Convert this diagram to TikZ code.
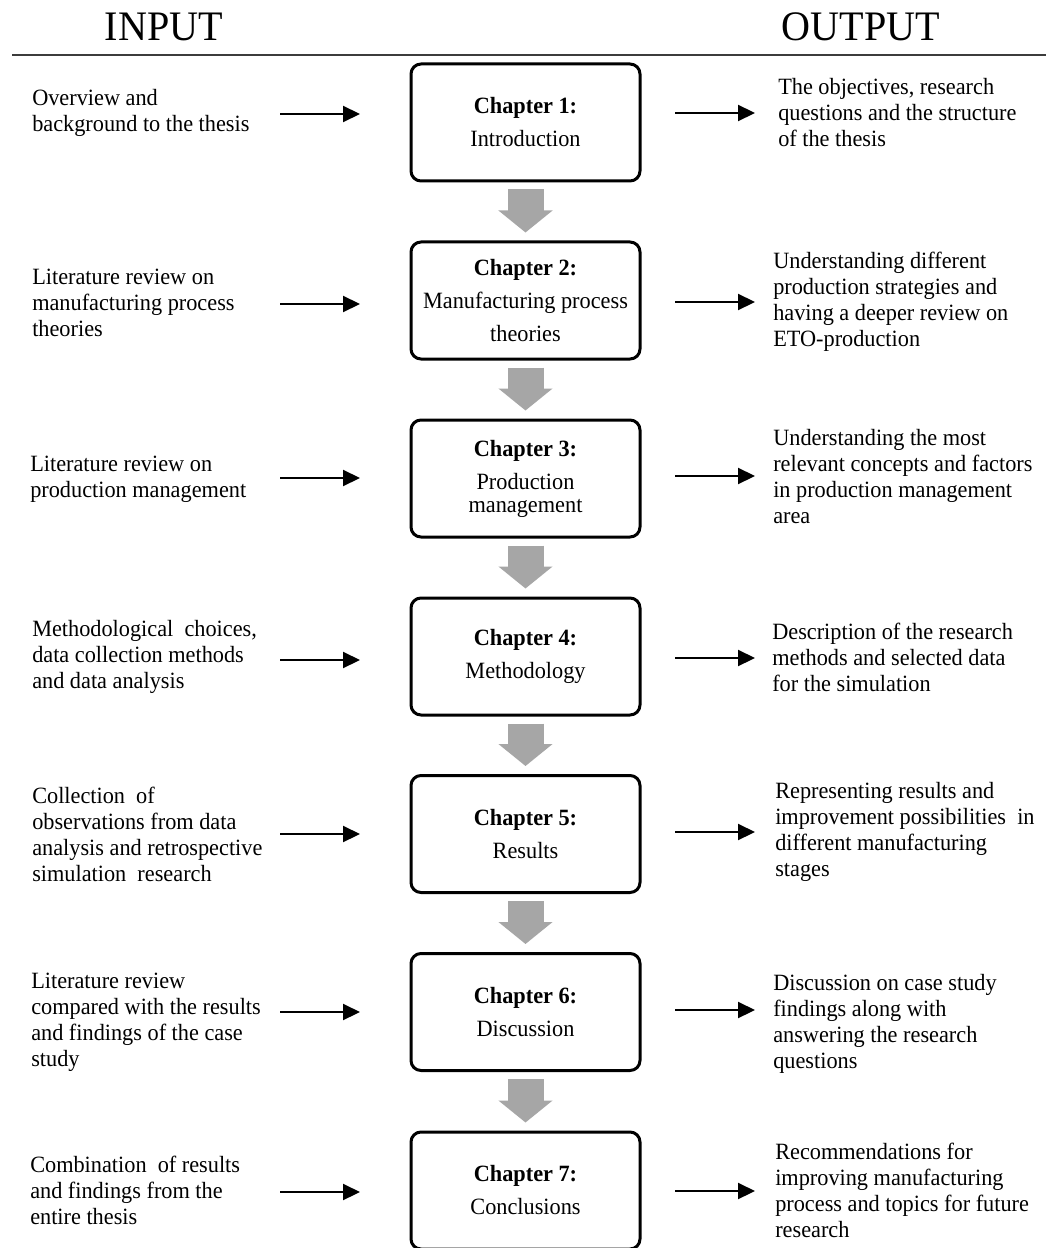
\documentclass[tikz,border=0pt]{standalone}
\usepackage{fontspec}
\setmainfont[FakeStretch=0.955]{Liberation Serif}
\usetikzlibrary{arrows.meta}
\definecolor{flowgray}{RGB}{166,166,166}
\definecolor{rulegray}{RGB}{60,60,60}
\tikzset{
  x=0.75pt, y=-0.75pt,
  sidetext/.style={anchor=west, align=left, inner sep=0pt,
    font=\fontsize{17.5}{19.5}\selectfont},
  header/.style={inner sep=0pt, font=\fontsize{31.5}{36}\selectfont},
  chapbox/.style={draw=black, line width=2.25pt, rounded corners=7.5pt,
    minimum width=171.75pt, minimum height=87.75pt, inner sep=0pt,
    align=center, font=\fontsize{17.5}{24.75}\selectfont},
  blackarrow/.style={line width=1.6pt, -{Triangle[length=12.75pt,width=12pt]}},
  flowarrow/.style={draw=flowgray, line width=27pt,
    -{Triangle[length=16.5pt,width=39.75pt,fill=flowgray]}}
}
\begin{document}
\begin{tikzpicture}
\clip (0,0) rectangle (1046,1248);
\fill[white] (0,0) rectangle (1046,1248);

% headers
\node[header] (hin) at (164,27) {INPUT};
\node[header] (hout) at (861,27) {OUTPUT};
\coordinate (rulel) at (12,55);
\coordinate (ruler) at (1046,55);
\draw[rulegray, line width=1.5pt] (rulel) -- (ruler);

% chapter boxes
\node[chapbox] (b1) at (525.5,122.5) {\textbf{Chapter 1:}\\Introduction};
\node[chapbox] (b2) at (525.5,300.5) {\textbf{Chapter 2:}\\Manufacturing process\\theories};
\node[chapbox] (b3) at (525.5,478.5) {\textbf{Chapter 3:}\\Production\\[-7.5pt]management};
\node[chapbox] (b4) at (525.5,656.5) {\textbf{Chapter 4:}\\Methodology};
\node[chapbox] (b5) at (525.5,834) {\textbf{Chapter 5:}\\Results};
\node[chapbox] (b6) at (525.5,1012) {\textbf{Chapter 6:}\\Discussion};
\node[chapbox] (b7) at (525.5,1190.5) {\textbf{Chapter 7:}\\Conclusions};

% flow arrows
\foreach \a/\b in {b1/b2,b2/b3,b3/b4,b4/b5,b5/b6,b6/b7}
  \draw[flowarrow] ([yshift=-5.25pt]\a.south) -- ([yshift=6pt]\b.north);

% input texts
\node[sidetext] (l1) at (32,112.5) {Overview and\\background to the thesis};
\node[sidetext] (l2) at (32,303) {Literature review on\\manufacturing process\\theories};
\node[sidetext] (l3) at (30,479) {Literature review on\\production management};
\node[sidetext] (l4) at (32,657) {Methodological\ \ choices,\\data collection methods\\and data analysis};
\node[sidetext] (l5) at (32,834) {Collection\ \ of\\observations from data\\analysis and retrospective\\simulation\ \ research};
\node[sidetext] (l6) at (31,1022) {Literature review\\compared with the results\\and findings of the case\\study};
\node[sidetext] (l7) at (30,1190) {Combination\ \ of results\\and findings from the\\entire thesis};

% output texts
\node[sidetext] (r1) at (778,113) {The objectives, research\\questions and the structure\\of the thesis};
\node[sidetext] (r2) at (773,302) {Understanding different\\production strategies and\\having a deeper review on\\ETO-production};
\node[sidetext] (r3) at (773,477) {Understanding the most\\relevant concepts and factors\\in production management\\area};
\node[sidetext] (r4) at (772,657) {Description of the research\\methods and selected data\\for the simulation};
\node[sidetext] (r5) at (775,832) {Representing results and\\improvement possibilities\ \ in\\different manufacturing\\stages};
\node[sidetext] (r6) at (773,1024) {Discussion on case study\\findings along with\\answering the research\\questions};
\node[sidetext] (r7) at (775,1190) {Recommendations for\\improving manufacturing\\process and topics for future\\research};

% black arrows (input -> box, box -> output)
\foreach \i/\ly/\ry in {1/114/113,2/304/302,3/478/476,4/660/658,5/834/832,6/1012/1010,7/1192/1191}{
  \coordinate (ls\i) at (280,\ly);
  \coordinate (le\i) at (360,\ly);
  \coordinate (rs\i) at (675,\ry);
  \coordinate (re\i) at (755,\ry);
  \draw[blackarrow] (ls\i) -- (le\i);
  \draw[blackarrow] (rs\i) -- (re\i);
}
\end{tikzpicture}
\end{document}
